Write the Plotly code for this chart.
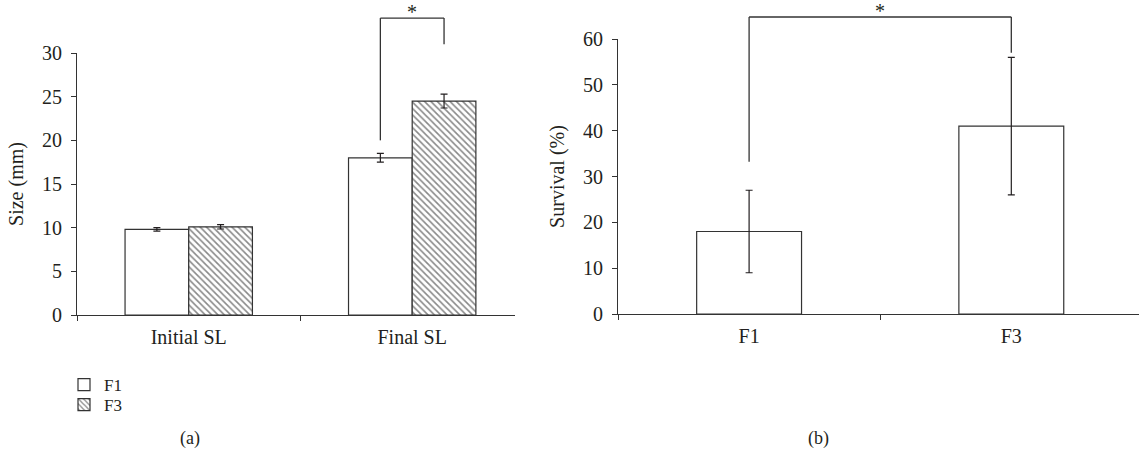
import plotly.graph_objects as go

# ---------------- data ----------------
size_categories = ["Initial SL", "Final SL"]
size_f1 = [9.8, 18.0]
size_f1_err = [0.2, 0.5]
size_f3 = [10.1, 24.5]
size_f3_err = [0.25, 0.8]

surv_categories = ["F1", "F3"]
surv_values = [18.0, 41.0]
surv_err = [9.0, 15.0]

size_ticks = [0, 5, 10, 15, 20, 25, 30]
surv_ticks = [0, 10, 20, 30, 40, 50, 60]

# significance brackets: (top, left bottom, right bottom)
size_bracket = [34.0, 20.0, 31.0]
surv_bracket = [64.8, 33.2, 57.0]

panel_labels = ["(a)", "(b)"]

# ---------------- style ----------------
W, H = 1139, 462
OFF = 0  # body margin removed below
FONT = "Liberation Serif"
TXT = "#231f20"
LINE = "#333333"
BARGAP = 0.43


def px(xp):
    return (xp - OFF) / W


def py(yp):
    return 1 - (yp - OFF) / H


ax1_dom_x = [px(77), px(515)]
ax1_dom_y = [py(315), py(53)]
ax2_dom_x = [px(618), px(1139)]
ax2_dom_y = [py(314), py(39)]
y1_range = [0, 30]
y2_range = [0, 60]


def to_paper(v, rng, dom):
    return dom[0] + (v - rng[0]) / (rng[1] - rng[0]) * (dom[1] - dom[0])


fig = go.Figure()

err_style = dict(type="data", thickness=1.2, width=3.5, color=TXT)

fig.add_trace(go.Bar(
    x=size_categories, y=size_f1, name="F1", legend="legend",
    error_y=dict(array=size_f1_err, **err_style),
    marker=dict(color="white", line=dict(color=LINE, width=1.2)),
    xaxis="x", yaxis="y",
))
fig.add_trace(go.Bar(
    x=size_categories, y=size_f3, name="F3", legend="legend2",
    error_y=dict(array=size_f3_err, **err_style),
    marker=dict(color="white", line=dict(color=LINE, width=1.2),
                pattern=dict(shape="\\", fgcolor="#111111", bgcolor="white",
                             size=4.5, solidity=0.35)),
    xaxis="x", yaxis="y",
))
fig.add_trace(go.Bar(
    x=surv_categories, y=surv_values, width=0.4, showlegend=False,
    error_y=dict(array=surv_err, **err_style),
    marker=dict(color="white", line=dict(color=LINE, width=1.2)),
    xaxis="x2", yaxis="y2",
))

axis_common = dict(
    showgrid=False, zeroline=False, showline=True, linecolor=LINE, linewidth=1.2,
    ticks="outside", ticklen=5, tickcolor=LINE, tickwidth=1.2,
    tickfont=dict(family=FONT, size=20, color=TXT),
    automargin=False,
)

legend_common = dict(xanchor="left", yanchor="middle",
                     font=dict(family=FONT, size=17, color=TXT),
                     bgcolor="rgba(0,0,0,0)", itemwidth=30)

fig.update_layout(
    width=W, height=H,
    margin=dict(l=0, r=0, t=0, b=0, autoexpand=False),
    paper_bgcolor="white", plot_bgcolor="white",
    barmode="group", bargap=BARGAP, bargroupgap=0,
    font=dict(family=FONT, size=20, color=TXT),
    xaxis=dict(domain=ax1_dom_x, anchor="y", type="category",
               range=[-0.5, 1.46], tickson="boundaries", ticklabelstandoff=4,
               **axis_common),
    yaxis=dict(domain=ax1_dom_y, anchor="x", range=y1_range,
               tickvals=size_ticks, ticklabelstandoff=5,
               title=dict(text="Size (mm)", standoff=12,
                          font=dict(family=FONT, size=20, color=TXT)),
               **axis_common),
    xaxis2=dict(domain=ax2_dom_x, anchor="y2", type="category",
                range=[-0.5, 1.487], tickson="boundaries", ticklabelstandoff=4,
                **axis_common),
    yaxis2=dict(domain=ax2_dom_y, anchor="x2", range=y2_range,
                tickvals=surv_ticks, ticklabelstandoff=5,
                title=dict(text="Survival (%)", standoff=12,
                           font=dict(family=FONT, size=20, color=TXT)),
                **axis_common),
    legend=dict(x=px(64), y=py(385), **legend_common),
    legend2=dict(x=px(64), y=py(405), **legend_common),
)


def bracket(xref, xl, xr, vals, rng, dom):
    top = to_paper(vals[0], rng, dom)
    lb = to_paper(vals[1], rng, dom)
    rb = to_paper(vals[2], rng, dom)
    for (x0, y0, x1, y1) in [(xl, lb, xl, top), (xl, top, xr, top), (xr, top, xr, rb)]:
        fig.add_shape(type="line", xref=xref, yref="paper", x0=x0, x1=x1, y0=y0, y1=y1,
                      line=dict(color=LINE, width=1.3))
    fig.add_annotation(xref=xref, yref="paper", x=(xl + xr) / 2, y=top, text="*",
                       showarrow=False, yanchor="bottom", yshift=-7,
                       font=dict(family=FONT, size=20, color=TXT))


half = (1 - BARGAP) / 4
bracket("x", 1 - half, 1 + half, size_bracket, y1_range, ax1_dom_y)
bracket("x2", 0, 1, surv_bracket, y2_range, ax2_dom_y)

for lbl, xc in zip(panel_labels, [190, 818]):
    fig.add_annotation(xref="paper", yref="paper", x=px(xc), y=py(438), text=lbl,
                       xanchor="center", yanchor="middle",
                       showarrow=False, font=dict(family=FONT, size=18, color=TXT))

fig.write_html("out.html", config={"displayModeBar": False},
               post_script="document.body.style.margin='0px';")
